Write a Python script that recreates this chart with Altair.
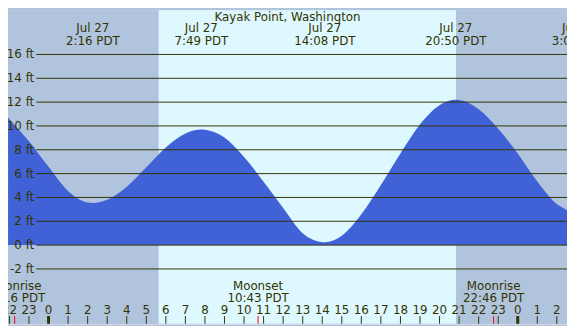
import altair as alt
import pandas as pd

# ---------------- data ----------------
TITLE = "Kayak Point, Washington"

# tide curve: hours since midnight Jul 27 (PDT) and height in feet
tide_hours = [-2.07, -2, -1, 0, 1, 2, 2.27, 3, 4, 5, 6, 7, 7.82,
              8, 9, 10, 11, 12, 13, 14, 14.13,
              15, 16, 17, 18, 19, 20, 20.83,
              21, 22, 23, 24, 25, 26, 26.52]
tide_feet = [10.70, 10.57, 8.71, 6.57, 4.55, 3.58, 3.54, 3.80, 4.90, 6.54, 8.20, 9.37, 9.70,
             9.68, 9.03, 7.39, 5.32, 3.12, 1.00, 0.25, 0.23,
             0.78, 2.58, 5.04, 7.69, 10.12, 11.74, 12.19,
             12.17, 11.40, 9.76, 7.69, 5.34, 3.45, 2.95]

# high / low tide labels
event_hours = [2.267, 7.817, 14.133, 20.833, 27.117]
event_dates = ["Jul 27", "Jul 27", "Jul 27", "Jul 27", "Jul 28"]
event_times = ["2:16 PDT", "7:49 PDT", "14:08 PDT", "20:50 PDT", "3:07 PDT"]

# moon events
moon_hours = [-1.733, 10.717, 22.767]
moon_names = ["Moonrise", "Moonset", "Moonrise"]
moon_times = ["22:16 PDT", "10:43 PDT", "22:46 PDT"]

# day / night periods
period_start = [-2.074, 5.63, 20.85]
period_end = [5.63, 20.85, 26.52]
period_kind = ["night", "day", "night"]

# y gridlines
grid_feet = [-2, 0, 2, 4, 6, 8, 10, 12, 14, 16]

# hour ticks along the bottom
hour_ticks = list(range(-2, 27))
midnights = [0, 24]

# ---------------- layout / style ----------------
W, H = 567, 318
SX, SY = W / 575, H / 326
X_DOMAIN = [-2.074, 26.52]
Y_DOMAIN = [-6.60, 19.71]
FONT = "DejaVu Sans"
FS = 12
TXT = "#333300"
BLUE = "#4162D6"
NIGHT = "#B0C4DE"
DAY = "#DDF8FE"

xs = alt.Scale(domain=X_DOMAIN, nice=False, zero=False)
ys = alt.Scale(domain=Y_DOMAIN, nice=False, zero=False)

tide_df = pd.DataFrame({"hour": tide_hours, "ft": tide_feet})
event_df = pd.DataFrame({
    "hour": event_hours,
    "label": [d + "\n" + t for d, t in zip(event_dates, event_times)],
})
moon_df = pd.DataFrame({
    "hour": moon_hours,
    "label": [n + "\n" + t for n, t in zip(moon_names, moon_times)],
})
period_df = pd.DataFrame({"start": period_start, "end": period_end, "kind": period_kind})
grid_df = pd.DataFrame({"ft": grid_feet, "label": [f"{v} ft" for v in grid_feet]})
hours_df = pd.DataFrame({"hour": hour_ticks, "label": [str(h % 24) for h in hour_ticks]})
mid_df = pd.DataFrame({"hour": midnights})
title_df = pd.DataFrame({"t": [TITLE]})

bg = alt.Chart(period_df).mark_rect().encode(
    x=alt.X("start:Q", scale=xs, axis=None),
    x2="end:Q",
    y=alt.value(0),
    y2=alt.value(H),
    color=alt.Color("kind:N", scale=alt.Scale(domain=["night", "day"], range=[NIGHT, DAY]), legend=None),
)

area = alt.Chart(tide_df).mark_area(interpolate="monotone", color=BLUE).encode(
    x=alt.X("hour:Q", scale=xs, axis=None),
    y=alt.Y("ft:Q", scale=ys, axis=None),
    y2=alt.value(H),
)

grid = alt.Chart(grid_df).mark_rule(color=TXT, strokeWidth=1).encode(
    y=alt.Y("ft:Q", scale=ys, axis=None),
    x=alt.value(29 * SX),
    x2=alt.value(W),
)

ylab = alt.Chart(grid_df).mark_text(align="right", baseline="middle", font=FONT, fontSize=FS, color=TXT).encode(
    y=alt.Y("ft:Q", scale=ys, axis=None),
    x=alt.value(27 * SX),
    text="label:N",
)

title = alt.Chart(title_df).mark_text(align="center", baseline="middle", font=FONT, fontSize=FS, color=TXT).encode(
    x=alt.value(W / 2),
    y=alt.value(7.3 * SY),
    text="t:N",
)

ev_lab = alt.Chart(event_df).mark_text(
    align="center", baseline="middle", font=FONT, fontSize=FS, color=TXT,
    lineBreak="\n", lineHeight=13,
).encode(
    x=alt.X("hour:Q", scale=xs, axis=None),
    y=alt.value(18.7 * SY),
    text="label:N",
)

moon_lab = alt.Chart(moon_df).mark_text(
    align="center", baseline="middle", font=FONT, fontSize=FS, color=TXT,
    lineBreak="\n", lineHeight=12,
).encode(
    x=alt.X("hour:Q", scale=xs, axis=None),
    y=alt.value(287.3 * SY),
    text="label:N",
)

hour_lab = alt.Chart(hours_df).mark_text(align="center", baseline="middle", font=FONT, fontSize=FS, color=TXT).encode(
    x=alt.X("hour:Q", scale=xs, axis=None),
    y=alt.value(311.7 * SY),
    text="label:N",
)

hour_tick = alt.Chart(hours_df).mark_rule(color=TXT, strokeWidth=1).encode(
    x=alt.X("hour:Q", scale=xs, axis=None),
    y=alt.value(318 * SY),
    y2=alt.value(H),
)
mid_tick = alt.Chart(mid_df).mark_rule(color=TXT, strokeWidth=3).encode(
    x=alt.X("hour:Q", scale=xs, axis=None),
    y=alt.value(318 * SY),
    y2=alt.value(H),
)
moon_tick = alt.Chart(moon_df).mark_rule(color="#FF0000", strokeWidth=1).encode(
    x=alt.X("hour:Q", scale=xs, axis=None),
    y=alt.value(318 * SY),
    y2=alt.value(H),
)

chart = alt.layer(
    bg, area, grid, ylab, title, ev_lab,
    moon_lab, hour_lab, hour_tick, mid_tick, moon_tick,
).properties(
    width=W, height=H,
    autosize=alt.AutoSizeParams(type="none"),
    padding=0,
).configure_view(stroke=None).configure(background=NIGHT)

chart.save("out.html", embed_options={"renderer": "svg", "actions": False})
